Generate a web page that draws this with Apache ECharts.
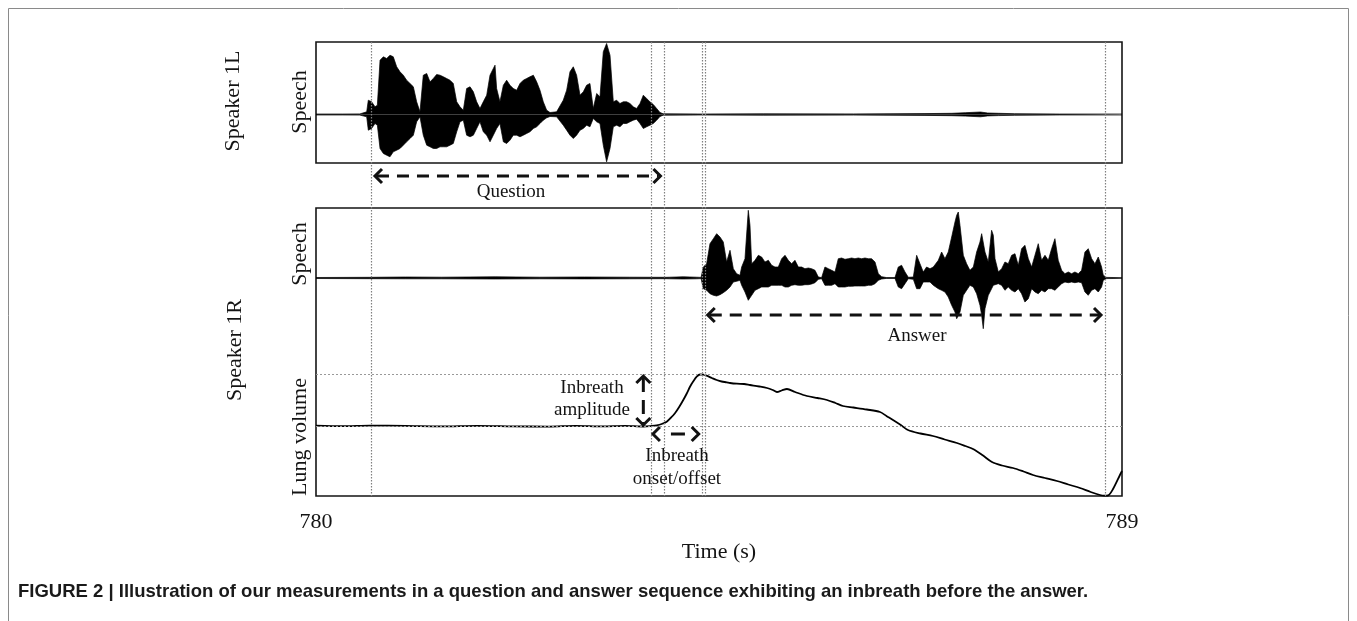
<!DOCTYPE html>
<html>
<head>
<meta charset="utf-8">
<script src="https://cdn.jsdelivr.net/npm/echarts@6/dist/echarts.min.js"></script>
<style>
html,body{margin:0;padding:0;background:#fff;}
#c{width:1357px;height:621px;}
</style>
</head>
<body>
<div id="c"></div>
<script>
// ---------------- DATA ----------------
// Time axis (s)
const timeRange = [780, 789];
const xTickLabels = [780, 789];

// Event times (s): question start, inbreath onset, question end, inbreath offset (double line), answer end
const eventTimes = [780.614, 783.740, 783.891, 784.307, 784.341, 788.810];

// Speaker 1L speech envelope: [time, upper, lower] (amplitude, a.u.)
const speech1L = [
  [780.000,0.5,-0.5],[780.300,0.5,-0.5],[780.490,0.6,-0.6],[780.566,2.7,-2.3],[780.584,14.3,-15.7],
  [780.621,12.7,-14],[780.659,7.7,-9],[780.685,9.3,-10.7],[780.715,54.3,-34],[780.752,57.7,-39],
  [780.789,56,-40.7],[780.826,59.3,-42.3],[780.863,57.7,-37.3],[780.901,47.7,-35.7],[780.938,42.7,-34],
  [780.975,39.3,-30.7],[781.012,34.3,-27.3],[781.050,31,-24],[781.087,27.7,-20.7],[781.124,12.7,-7.3],
  [781.161,2.7,-2.3],[781.198,39.3,-20.7],[781.236,41,-30.7],[781.273,32.7,-32.3],[781.310,36,-34],
  [781.347,40,-34],[781.385,39.3,-32.3],[781.422,37.7,-32.3],[781.459,36,-32.3],[781.496,34.3,-30.7],
  [781.533,31,-29],[781.571,12.7,-17.3],[781.608,7.7,-7.3],[781.645,4.3,-5.7],[781.682,26,-20.7],
  [781.720,27.7,-22.3],[781.757,22.7,-20.7],[781.794,12.7,-14],[781.831,6,-7.3],[781.868,12.7,-17.3],
  [781.906,19.3,-20.7],[781.943,39.3,-27.3],[781.980,46,-20.7],[781.999,49.3,-20.7],[782.017,26,-14],
  [782.054,12.7,-9],[782.092,29.3,-27.3],[782.129,34.3,-29],[782.166,29.3,-25.7],[782.203,26,-20.7],
  [782.241,24.3,-20.7],[782.278,31,-22.3],[782.315,34.3,-20.7],[782.352,36,-19],[782.389,37.7,-17.3],
  [782.427,39.3,-14],[782.464,32.7,-12.3],[782.501,24.3,-9],[782.538,12.7,-5.7],[782.576,4.3,-3.3],
  [782.613,2,-2],[782.687,2.7,-2.3],[782.761,14.3,-10.7],[782.799,24.3,-15.7],[782.836,42.7,-20.7],
  [782.873,47.7,-24],[782.910,39.3,-20.7],[782.948,19.3,-15.7],[782.985,22.7,-14],[783.022,29.3,-10.7],
  [783.059,31,-12.3],[783.096,6,-4],[783.134,21,-7.3],[783.171,17.7,-9],[783.208,62.7,-30.7],
  [783.245,71,-47.3],[783.264,72.3,-48],[783.283,59.3,-34],[783.320,12.7,-12.3],[783.357,14.3,-10.7],
  [783.394,11,-12.3],[783.431,12.7,-9],[783.469,12.7,-9],[783.506,11,-7.3],[783.543,7.7,-5.7],
  [783.580,6,-4.7],[783.618,11,-9],[783.655,19.3,-14],[783.692,16,-12.3],[783.729,12.7,-10.7],
  [783.766,10,-9],[783.804,6,-5.7],[783.841,2,-2],[783.878,0.7,-0.7],[784.300,0.5,-0.5],
  [785.000,0.7,-0.7],[786.000,0.6,-0.6],[786.800,0.9,-0.9],[787.100,1.2,-1.2],[787.250,1.8,-1.6],
  [787.420,2.5,-2.3],[787.500,1.5,-1.4],[787.620,1.2,-1.1],[787.800,0.8,-0.8],[788.300,0.5,-0.5],
  [789.000,0.5,-0.5]
];

// Speaker 1R speech envelope: [time, upper, lower] (amplitude, a.u.)
const speech1R = [
  [780.000,0.5,-0.5],[780.600,0.7,-0.7],[781.000,1.0,-0.8],[781.400,0.8,-0.8],[782.000,1.2,-1.0],
  [782.500,0.8,-0.8],[783.000,1.0,-0.9],[783.500,0.8,-0.8],[783.910,0.7,-0.7],[783.930,2.2,-2.2],
  [783.950,0.8,-0.8],[784.100,1.2,-1.0],[784.250,0.8,-0.8],[784.300,0.6,-0.6],
  [784.325,11,-10.7],[784.362,14.3,-12.3],[784.399,34.3,-15.7],[784.437,39.3,-17.3],[784.474,44.3,-18],
  [784.511,41,-16.7],[784.548,36,-14.7],[784.585,16,-12.3],[784.623,27.7,-9],[784.641,29.3,-7.3],
  [784.660,9.3,-4],[784.697,4.3,-3.3],[784.734,2.7,-2.3],[784.753,11,-7.3],[784.790,19.3,-14],
  [784.827,67.7,-22.3],[784.846,52.7,-24],[784.865,14.3,-17.3],[784.902,17.7,-12.3],[784.939,22.7,-10.7],
  [784.976,21,-9],[785.013,16,-9],[785.051,17.7,-9],[785.088,12.7,-7.3],[785.125,11,-7.3],
  [785.162,11,-7.3],[785.200,19.3,-7.3],[785.237,22.7,-9],[785.274,17.7,-9],[785.311,14.3,-7.3],
  [785.348,17.7,-6.7],[785.386,11,-7.3],[785.423,11,-7.3],[785.460,9.3,-6.7],[785.497,10,-6.7],
  [785.534,9.3,-6],[785.572,7.7,-4.7],[785.609,1,-1.3],[785.646,0.4,-0.7],[785.683,11,-7.3],
  [785.721,9.3,-7.3],[785.758,7.7,-7.3],[785.795,6,-5.7],[785.832,19.3,-9],[785.869,20,-9],
  [785.907,18.7,-9],[785.944,19.3,-8.3],[785.981,20,-8.3],[786.018,19.3,-8],[786.055,20,-8],
  [786.093,19.3,-8],[786.130,20,-8],[786.167,19.3,-7.3],[786.204,19.3,-7.3],[786.242,16,-5.7],
  [786.279,4.3,-2.3],[786.316,1.3,-1],[786.372,0.4,-0.4],[786.465,0.4,-0.4],[786.502,11,-9],
  [786.539,12.7,-10.7],[786.577,6,-5.7],[786.614,0.7,-0.7],[786.670,1,-1.3],[786.707,22.7,-10.7],
  [786.744,14.3,-10.7],[786.781,6,-4],[786.818,11,-4],[786.856,9.3,-4],[786.893,11,-7.3],
  [786.949,17.7,-10.7],[786.986,26,-12.3],[787.023,19.3,-14],[787.060,26,-19],[787.098,41,-27.3],
  [787.135,56,-34],[787.154,62.7,-40.7],[787.172,66,-42.3],[787.191,52.7,-34],[787.228,22.7,-17.3],
  [787.265,14.3,-12.3],[787.302,7.7,-7.3],[787.340,11,-9],[787.377,26,-15.7],[787.414,36,-27.3],
  [787.433,44.3,-37.3],[787.451,42.7,-50.7],[787.470,26,-30.7],[787.507,16,-17.3],[787.544,47.7,-10.7],
  [787.563,42.7,-7.3],[787.582,19.3,-7.3],[787.619,6,-5.7],[787.656,9.3,-7.3],[787.693,16,-12.3],
  [787.730,14.3,-9],[787.768,22.7,-12.3],[787.805,24.3,-14],[787.842,12.7,-10.7],[787.879,29.3,-15.7],
  [787.916,32.7,-24],[787.954,19.3,-20.7],[787.991,11,-10.7],[788.028,22.7,-14],[788.065,34.3,-15.7],
  [788.102,17.7,-12.3],[788.140,22.7,-14],[788.177,17.7,-10.7],[788.214,29.3,-10.7],[788.251,39.3,-12.3],
  [788.288,17.7,-9],[788.326,7.7,-5.7],[788.363,4.3,-4],[788.400,6,-4.7],[788.437,4.3,-4],
  [788.474,6,-4.7],[788.512,4.3,-4],[788.549,7.7,-4.7],[788.586,26,-14],[788.623,29.3,-17.3],
  [788.661,19.3,-12.3],[788.698,14.3,-10.7],[788.735,21,-14],[788.772,11,-9],[788.791,2.7,-2.3],
  [788.828,0.6,-0.6],[788.900,0.5,-0.5],[789.000,0.5,-0.5]
];

// Speaker 1R lung volume (a.u., relative to pre-inbreath level): [time, value]
const lungVolume1R = [
  [780.000,0.3],[780.300,-0.2],[780.600,0.4],[781.000,0.1],[781.400,-0.4],[781.800,0.2],
  [782.200,-0.3],[782.600,-0.6],[782.900,0.2],[783.200,-0.4],[783.450,0.1],[783.655,-0.5],
  [783.750,0.1],[783.804,0.7],[783.860,2.0],[783.916,4.3],[783.960,8],[784.008,12.7],
  [784.055,19],[784.101,26],[784.140,32.5],[784.176,39.3],[784.215,45],[784.251,49.3],
  [784.288,51.5],[784.325,51.3],[784.362,50.3],[784.420,48],[784.474,46],[784.530,44.5],
  [784.586,43.7],[784.623,43],[784.700,42.3],[784.780,42],[784.846,41],[784.950,39.5],
  [785.036,38],[785.100,36],[785.147,34],[785.200,35.5],[785.259,37],[785.350,34],
  [785.482,30],[785.600,28],[785.706,26],[785.800,23],[785.884,20],[786.000,18.5],
  [786.150,16.5],[786.298,14],[786.370,10],[786.443,6],[786.530,1],[786.610,-4],
  [786.750,-7.5],[786.889,-10],[787.020,-13.5],[787.157,-17],[787.250,-20],[787.336,-23],
  [787.440,-29],[787.548,-36],[787.660,-39.5],[787.783,-42],[787.900,-45.5],[788.006,-49],
  [788.140,-52],[788.274,-55],[788.400,-58.5],[788.531,-62],[788.650,-66],[788.754,-69],
  [788.800,-69.7],[788.843,-69.5],[788.900,-63],[788.977,-49],[789.000,-45]
];

// Reference levels on the lung-volume trace: pre-inbreath level and inbreath peak
const lungLevels = [0, 52];

// ---------------- CHART ----------------
const serif = '"Liberation Serif", "Times New Roman", serif';
const ink = '#141414';
const chart = echarts.init(document.getElementById('c'), null, {renderer: 'canvas'});

function envSeries(data, axis, col, name) {
  return {
    type: 'line', name: name, xAxisIndex: axis, yAxisIndex: axis,
    data: data.map(d => [d[0], d[col]]),
    showSymbol: false, symbol: 'none', silent: true, animation: false,
    lineStyle: {color: '#000', width: 0.7},
    areaStyle: {color: '#000', opacity: 1},
    z: 3
  };
}

const hiddenX = (g) => ({type: 'value', gridIndex: g, min: timeRange[0], max: timeRange[1], show: false});

const option = {
  animation: false,
  backgroundColor: '#fff',
  grid: [
    {left: 316, right: 235, top: 42, height: 121, show: true, borderColor: ink, borderWidth: 1.6, backgroundColor: 'transparent'},
    {left: 316, right: 235, top: 208, height: 288, show: true, borderColor: ink, borderWidth: 1.6, backgroundColor: 'transparent'},
    {left: 316, right: 235, top: 208, height: 288, show: false}
  ],
  xAxis: [
    hiddenX(0), hiddenX(1),
    {
      type: 'value', gridIndex: 2, min: timeRange[0], max: timeRange[1],
      axisLine: {show: false}, axisTick: {show: false}, splitLine: {show: false},
      axisLabel: {customValues: xTickLabels, showMinLabel: true, showMaxLabel: true,
        fontSize: 22, fontFamily: serif, color: ink, margin: 15},
      name: 'Time (s)', nameLocation: 'middle', nameGap: 45,
      nameTextStyle: {fontSize: 22, fontFamily: serif, color: ink}
    }
  ],
  yAxis: [
    {type: 'value', gridIndex: 0, min: -48.5, max: 72.5, show: false},
    {type: 'value', gridIndex: 1, min: -218, max: 70, show: false},
    {type: 'value', gridIndex: 2, min: -70, max: 218, show: false}
  ],
  series: [
    envSeries(speech1L, 0, 1, 's1u'),
    envSeries(speech1L, 0, 2, 's1l'),
    envSeries(speech1R, 1, 1, 's2u'),
    envSeries(speech1R, 1, 2, 's2l'),
    {
      type: 'line', name: 'lung', xAxisIndex: 2, yAxisIndex: 2,
      data: lungVolume1R, showSymbol: false, symbol: 'none', silent: true, smooth: 0.3,
      lineStyle: {color: '#000', width: 1.8}, z: 4,
      markLine: {
        silent: true, symbol: 'none', label: {show: false}, animation: false,
        lineStyle: {color: '#999', type: [2, 2], width: 1},
        data: lungLevels.map(v => ({yAxis: v}))
      }
    }
  ]
};
chart.setOption(option);

// ---------------- ANNOTATIONS (positioned through the axes) ----------------
const px = t => chart.convertToPixel({xAxisIndex: 2}, t);
const pyLung = v => chart.convertToPixel({yAxisIndex: 2}, v);
const g = [];

// outer figure frame
g.push({type: 'rect', shape: {x: 8.5, y: 8.5, width: 1340, height: 700},
  style: {fill: 'none', stroke: '#8a8a8a', lineWidth: 1}, z: 1, silent: true});

// vertical guide lines at event times
eventTimes.forEach(t => {
  const x = Math.round(px(t)) + 0.5;
  g.push({type: 'line', shape: {x1: x, y1: 42, x2: x, y2: 496},
    style: {stroke: '#808080', lineWidth: 1.2, lineDash: [1.5, 1.5]}, z: 20, silent: true});
});

const arrowStyle = {stroke: '#111', lineWidth: 3, fill: 'none'};
function hArrow(x1, x2, y, dash) {
  g.push({type: 'line', shape: {x1: x1 + 3, y1: y, x2: x2 - 3, y2: y},
    style: {stroke: '#111', lineWidth: 3, lineDash: dash || [12, 8]}, z: 30, silent: true});
  g.push({type: 'polyline', shape: {points: [[x1 + 8, y - 7], [x1 + 1, y], [x1 + 8, y + 7]]}, style: arrowStyle, z: 30, silent: true});
  g.push({type: 'polyline', shape: {points: [[x2 - 8, y - 7], [x2 - 1, y], [x2 - 8, y + 7]]}, style: arrowStyle, z: 30, silent: true});
}
function vArrow(x, y1, y2, dash) {
  g.push({type: 'line', shape: {x1: x, y1: y1 + 3, x2: x, y2: y2 - 3},
    style: {stroke: '#111', lineWidth: 3, lineDash: dash || [12, 8]}, z: 30, silent: true});
  g.push({type: 'polyline', shape: {points: [[x - 7, y1 + 8], [x, y1 + 1], [x + 7, y1 + 8]]}, style: arrowStyle, z: 30, silent: true});
  g.push({type: 'polyline', shape: {points: [[x - 7, y2 - 8], [x, y2 - 1], [x + 7, y2 - 8]]}, style: arrowStyle, z: 30, silent: true});
}

// Question: from question start to question end
hArrow(px(eventTimes[0]) + 3, px(eventTimes[2]) - 3, 176, [12, 8]);
// Answer: from answer start to answer end
hArrow(px(eventTimes[4]) + 2, px(eventTimes[5]) - 3, 315, [12, 8]);
// Inbreath amplitude: between lung levels
vArrow(px(783.655), pyLung(lungLevels[1]) + 1, pyLung(lungLevels[0]), [14, 8]);
// Inbreath onset/offset
hArrow(px(eventTimes[1]) + 1, px(eventTimes[3]) - 2, 434, [0, 16, 14, 40]);

function txt(s, x, y, size, opts) {
  const o = Object.assign({rot: 0, align: 'center', font: serif, weight: 'normal', color: ink}, opts || {});
  g.push({type: 'text', x: x, y: y, rotation: o.rot, z: 40, silent: true,
    style: {text: s, fontSize: size, fontFamily: o.font, fontWeight: o.weight, fill: o.color,
      textAlign: o.align, textVerticalAlign: 'middle'}});
}
const R = Math.PI / 2;
txt('Speaker 1L', 233, 101, 22, {rot: R});
txt('Speech', 300, 102, 22, {rot: R});
txt('Speaker 1R', 235, 350, 22, {rot: R});
txt('Speech', 300, 254, 22, {rot: R});
txt('Lung volume', 300, 437, 22, {rot: R});
txt('Question', 511, 192, 19);
txt('Answer', 917, 336, 19);
txt('Inbreath', 592, 388, 19);
txt('amplitude', 592, 410, 19);
txt('Inbreath', 677, 456, 19);
txt('onset/offset', 677, 479, 19);
txt('FIGURE 2 | Illustration of our measurements in a question and answer sequence exhibiting an inbreath before the answer.',
  18, 592, 18.5, {align: 'left', font: '"Liberation Sans", Arial, sans-serif', weight: 'bold', color: '#1a1a1a'});

chart.setOption({graphic: g});
</script>
</body>
</html>
